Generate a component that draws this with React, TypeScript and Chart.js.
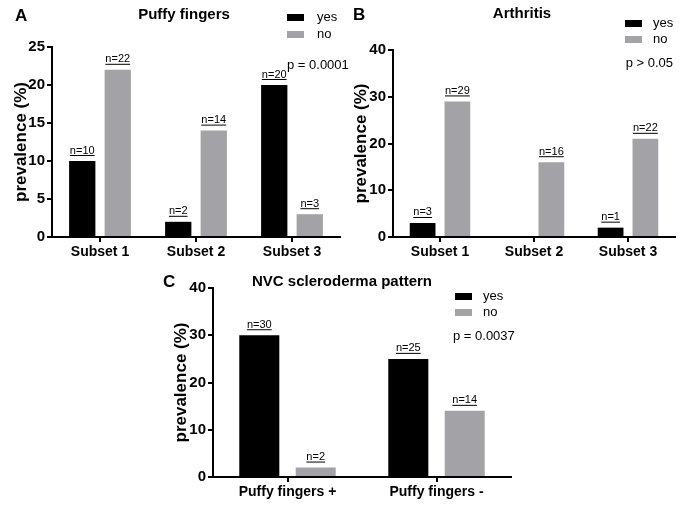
import React, { useEffect, useRef } from "react";
import { Chart, registerables } from "chart.js";
Chart.register(...registerables);

const FONT = '"Liberation Sans", Arial, Helvetica, sans-serif';
const BLACK = "#000000";
const GREY = "#a3a3a7";

// Panel A: Puffy fingers
const puffyCategories = ["Subset 1", "Subset 2", "Subset 3"];
const puffyYes = [10, 2, 20];
const puffyNo = [22, 14, 3];
const puffyYesN = ["n=10", "n=2", "n=20"];
const puffyNoN = ["n=22", "n=14", "n=3"];
const puffyTicks = { max: 25, step: 5 };

// Panel B: Arthritis
const arthritisCategories = ["Subset 1", "Subset 2", "Subset 3"];
const arthritisYes = [3, 0, 2];
const arthritisNo = [29, 16, 21];
const arthritisYesN = ["n=3", "", "n=1"];
const arthritisNoN = ["n=29", "n=16", "n=22"];
const arthritisTicks = { max: 40, step: 10 };

// Panel C: NVC scleroderma pattern
const nvcCategories = ["Puffy fingers +", "Puffy fingers -"];
const nvcYes = [30, 25];
const nvcNo = [2, 14];
const nvcYesN = ["n=30", "n=25"];
const nvcNoN = ["n=2", "n=14"];
const nvcTicks = { max: 40, step: 10 };

const seriesLabels = ["yes", "no"];

type PanelCfg = {
  key: string;
  letter: string;
  title: string;
  pText: string;
  categories: string[];
  yes: number[];
  no: number[];
  yesN: string[];
  noN: string[];
  ticks: { max: number; step: number };
  padding: { left: number; top: number; right: number; bottom: number };
  yWidth: number;
  xHeight: number;
  yTitlePad: number;
  catPct: number;
  barPct: number;
  letterPos: [number, number];
  titlePos: [number, number];
  legendPos: [number, number]; // rect left, rect top
  legendTextX: number;
  legendGap: number;
  pPos: [number, number];
  pAlign: CanvasTextAlign;
};

const panels: PanelCfg[] = [
  {
    key: "A",
    letter: "A",
    title: "Puffy fingers",
    pText: "p = 0.0001",
    categories: puffyCategories,
    yes: puffyYes,
    no: puffyNo,
    yesN: puffyYesN,
    noN: puffyNoN,
    ticks: puffyTicks,
    padding: { left: 0, top: 47, right: 345, bottom: 251 },
    yWidth: 52,
    xHeight: 25,
    yTitlePad: 11,
    catPct: 0.74,
    barPct: 0.74,
    letterPos: [15, 21],
    titlePos: [184, 19],
    legendPos: [287, 14],
    legendTextX: 317,
    legendGap: 17,
    pPos: [287, 69],
    pAlign: "left",
  },
  {
    key: "B",
    letter: "B",
    title: "Arthritis",
    pText: "p > 0.05",
    categories: arthritisCategories,
    yes: arthritisYes,
    no: arthritisNo,
    yesN: arthritisYesN,
    noN: arthritisNoN,
    ticks: arthritisTicks,
    padding: { left: 345, top: 50, right: 10, bottom: 251 },
    yWidth: 48,
    xHeight: 25,
    yTitlePad: 6,
    catPct: 0.74,
    barPct: 0.74,
    letterPos: [353, 20],
    titlePos: [522, 18],
    legendPos: [625, 20],
    legendTextX: 653,
    legendGap: 16,
    pPos: [673, 67],
    pAlign: "right",
  },
  {
    key: "C",
    letter: "C",
    title: "NVC scleroderma pattern",
    pText: "p = 0.0037",
    categories: nvcCategories,
    yes: nvcYes,
    no: nvcNo,
    yesN: nvcYesN,
    noN: nvcNoN,
    ticks: nvcTicks,
    padding: { left: 140, top: 288, right: 174, bottom: 0 },
    yWidth: 73,
    xHeight: 36,
    yTitlePad: 31,
    catPct: 0.757,
    barPct: 0.71,
    letterPos: [163, 287],
    titlePos: [342, 286],
    legendPos: [455, 293],
    legendTextX: 483,
    legendGap: 16,
    pPos: [453, 340],
    pAlign: "left",
  },
];

function makePlugin(p: PanelCfg) {
  return {
    id: "annot" + p.key,
    afterDraw(chart: any) {
      const ctx: CanvasRenderingContext2D = chart.ctx;
      ctx.save();
      ctx.fillStyle = BLACK;
      // n= labels above bars
      const nLabels = [p.yesN, p.noN];
      chart.data.datasets.forEach((_ds: any, di: number) => {
        const meta = chart.getDatasetMeta(di);
        meta.data.forEach((el: any, i: number) => {
          const txt = nLabels[di][i];
          if (!txt) return;
          ctx.font = `11px ${FONT}`;
          ctx.textAlign = "center";
          ctx.textBaseline = "alphabetic";
          const y = el.y - 7.5;
          ctx.fillText(txt, el.x, y);
          const w = ctx.measureText(txt).width;
          ctx.fillRect(el.x - w / 2, y + 1.5, w, 1);
        });
      });
      // panel letter
      ctx.textAlign = "left";
      ctx.textBaseline = "alphabetic";
      ctx.font = `bold 17px ${FONT}`;
      ctx.fillText(p.letter, p.letterPos[0], p.letterPos[1]);
      // title
      ctx.textAlign = "center";
      ctx.font = `bold 15px ${FONT}`;
      ctx.fillText(p.title, p.titlePos[0], p.titlePos[1]);
      // legend
      ctx.font = `13px ${FONT}`;
      ctx.textAlign = "left";
      chart.data.datasets.forEach((ds: any, di: number) => {
        const top = p.legendPos[1] + di * p.legendGap;
        ctx.fillStyle = ds.backgroundColor;
        ctx.fillRect(p.legendPos[0], top, 17, 7);
        ctx.fillStyle = BLACK;
        ctx.fillText(ds.label, p.legendTextX, top + 7);
      });
      // p value
      ctx.textAlign = p.pAlign;
      ctx.fillText(p.pText, p.pPos[0], p.pPos[1]);
      ctx.restore();
    },
  };
}

function Panel({ p }: { p: PanelCfg }) {
  const ref = useRef<HTMLCanvasElement>(null);
  useEffect(() => {
    const chart = new Chart(ref.current as HTMLCanvasElement, {
      type: "bar",
      data: {
        labels: p.categories,
        datasets: [
          {
            label: seriesLabels[0],
            data: p.yes,
            backgroundColor: BLACK,
            borderWidth: 0,
            categoryPercentage: p.catPct,
            barPercentage: p.barPct,
          },
          {
            label: seriesLabels[1],
            data: p.no,
            backgroundColor: GREY,
            borderWidth: 0,
            categoryPercentage: p.catPct,
            barPercentage: p.barPct,
          },
        ],
      },
      options: {
        responsive: false,
        animation: false,
        devicePixelRatio: 1,
        layout: { padding: p.padding },
        plugins: {
          legend: { display: false },
          tooltip: { enabled: false },
          title: { display: false },
        },
        scales: {
          x: {
            grid: {
              offset: false,
              drawOnChartArea: false,
              drawTicks: true,
              tickLength: 5,
              color: BLACK,
              lineWidth: 2,
            },
            border: { display: true, color: BLACK, width: 2 },
            ticks: {
              color: BLACK,
              font: { family: FONT, size: 14, weight: "bold" },
              padding: 2,
              maxRotation: 0,
              autoSkip: false,
            },
            afterFit: (scale: any) => {
              scale.height = p.xHeight;
            },
          },
          y: {
            min: 0,
            max: p.ticks.max,
            grid: {
              drawOnChartArea: false,
              drawTicks: true,
              tickLength: 5,
              color: BLACK,
              lineWidth: 2,
            },
            border: { display: true, color: BLACK, width: 2 },
            ticks: {
              stepSize: p.ticks.step,
              color: BLACK,
              font: { family: FONT, size: 15, weight: "bold" },
              padding: 2,
            },
            title: {
              display: true,
              text: "prevalence (%)",
              color: BLACK,
              font: { family: FONT, size: 17, weight: "bold", lineHeight: 1.2 },
              padding: { top: p.yTitlePad, bottom: 0 },
            },
            afterFit: (scale: any) => {
              scale.width = p.yWidth;
            },
          },
        },
      },
      plugins: [makePlugin(p)],
    } as any);
    return () => chart.destroy();
  }, []);
  return (
    <canvas
      ref={ref}
      width={685}
      height={513}
      style={{ position: "absolute", left: 0, top: 0, width: 685, height: 513 }}
    />
  );
}

export default function App() {
  return (
    <div
      style={{
        position: "fixed",
        left: 0,
        top: 0,
        width: 685,
        height: 513,
        background: "#ffffff",
        overflow: "hidden",
      }}
    >
      {panels.map((p) => (
        <Panel key={p.key} p={p} />
      ))}
    </div>
  );
}
